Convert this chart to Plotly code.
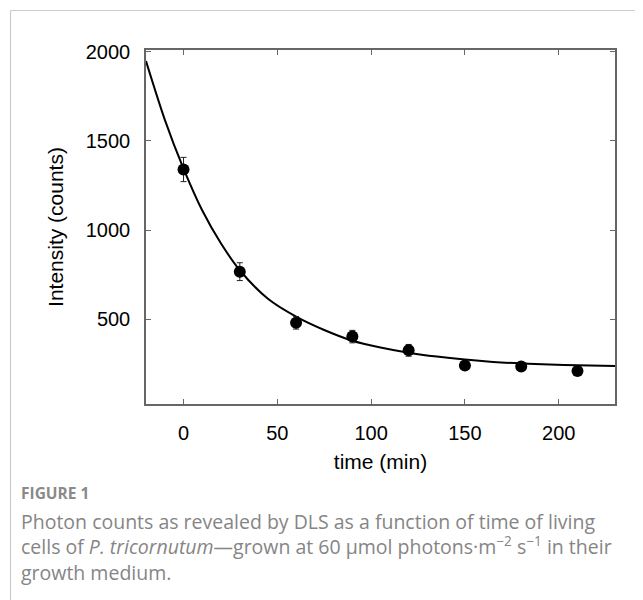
import plotly.graph_objects as go

# measured data
time_min = [0, 30, 60, 90, 120, 150, 180, 210]
intensity = [1340, 767, 480, 403, 326, 241, 235, 210]
intensity_err = [68, 50, 35, 35, 33, 20, 20, 15]

# fitted curve
fit_time = [-20, -10, 0, 10, 20, 30, 45, 60, 75, 90, 105, 120, 135, 150, 165, 180, 195, 210, 230]
fit_intensity = [1948, 1620, 1345, 1110, 925, 775, 615, 515, 440, 380, 342, 313, 291, 274, 261, 252, 246, 242, 238]

x_ticks = [0, 50, 100, 150, 200]
y_ticks = [500, 1000, 1500, 2000]

W, H = 643, 600
OFF = 8  # page body margin
# plot box in reference pixel coordinates
PL, PR, PT, PB = 146, 615, 50, 404
PW, PH = PR - PL, PB - PT


def px(x):
    return (x - PL) / PW


def py(y):
    return (PB - y) / PH


fig = go.Figure()
fig.add_trace(go.Scatter(
    x=fit_time, y=fit_intensity, mode="lines",
    line=dict(color="black", width=2, shape="spline", smoothing=0.8),
    hoverinfo="skip", showlegend=False))
fig.add_trace(go.Scatter(
    x=time_min, y=intensity, mode="markers",
    marker=dict(color="black", size=12),
    error_y=dict(type="data", array=intensity_err, color="#222", thickness=1, width=3),
    showlegend=False))

axis_common = dict(
    showgrid=False, zeroline=False, showline=True, linecolor="#666", linewidth=1.5,
    mirror="ticks", ticks="inside", ticklen=5, tickcolor="#666", tickwidth=1,
    tickfont=dict(family="Liberation Sans, Arial, sans-serif", size=20, color="black"),
    ticklabelstandoff=10,
)
fig.update_xaxes(range=[-20, 230], tickvals=x_ticks, **axis_common,
                 title=dict(text="time (min)", standoff=12,
                            font=dict(family="Liberation Sans, Arial, sans-serif", size=21, color="black")))
fig.update_yaxes(range=[25, 2010], tickvals=y_ticks, **axis_common,
                 title=dict(text="Intensity (counts)", standoff=16,
                            font=dict(family="Liberation Sans, Arial, sans-serif", size=21, color="black")))

# caption box border
fig.add_shape(type="line", xref="paper", yref="paper", x0=px(10.5), x1=px(W + 20), y0=py(10.5), y1=py(10.5),
              line=dict(color="#cccccc", width=1.2))
fig.add_shape(type="line", xref="paper", yref="paper", x0=px(10.5), x1=px(10.5), y0=py(10.5), y1=py(H + 20),
              line=dict(color="#cccccc", width=1.2))

cap_font = dict(family="Open Sans, sans-serif", size=19.5, color="#858585")
fig.add_annotation(text="<b>FIGURE 1</b>", xref="paper", yref="paper", x=px(19), y=py(493),
                   xanchor="left", yanchor="middle", showarrow=False,
                   font=dict(family="Open Sans, sans-serif", size=15.5, color="#8a8a8a"))
caption = ("Photon counts as revealed by DLS as a function of time of living<br>"
           "cells of <i>P. tricornutum</i>\u2014grown at 60 \u00b5mol photons\u00b7m<sup>\u22122</sup> "
           "s<sup>\u22121</sup> in their<br>"
           "growth medium.")
fig.add_annotation(text=caption, xref="paper", yref="paper", x=px(19), y=py(547),
                   xanchor="left", yanchor="middle", align="left", showarrow=False, font=cap_font)

fig.update_layout(
    width=W, height=H,
    margin=dict(l=PL - OFF, r=W - PR + OFF, t=PT - OFF, b=H - PB + OFF),
    paper_bgcolor="white", plot_bgcolor="white",
)

fig.write_html("out.html")
